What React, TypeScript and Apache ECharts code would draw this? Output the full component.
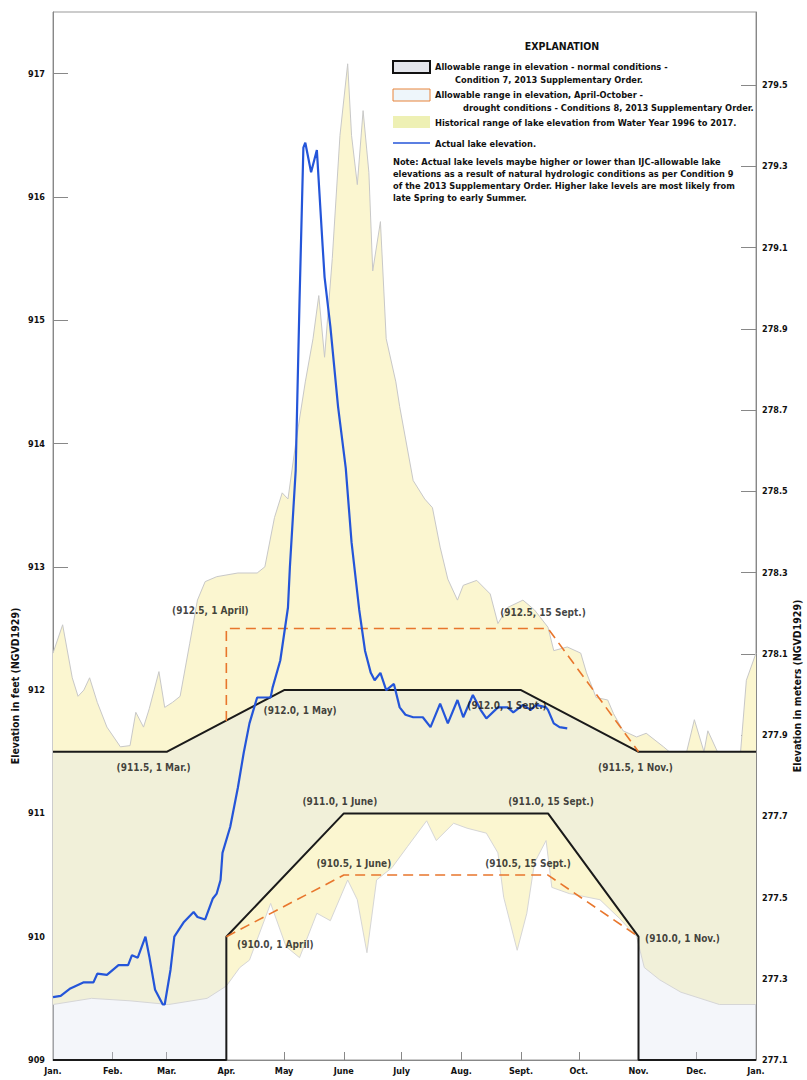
import React, { useEffect, useRef } from "react";
import * as echarts from "echarts";

// ---------- data ----------
const monthStarts = [0, 31, 59, 90, 120, 151, 181, 212, 243, 273, 304, 334, 365];
const monthLabels = ["Jan.", "Feb.", "Mar.", "Apr.", "May", "June", "July", "Aug.", "Sept.", "Oct.", "Nov.", "Dec.", "Jan."];
const feetTicks = [909, 910, 911, 912, 913, 914, 915, 916, 917];
const meterTicks = [277.1, 277.3, 277.5, 277.7, 277.9, 278.1, 278.3, 278.5, 278.7, 278.9, 279.1, 279.3, 279.5];

// normal-condition allowable range (Condition 7)
const normalUpperDays = [0, 59, 120, 243, 304, 365];
const normalUpperVals = [911.5, 911.5, 912.0, 912.0, 911.5, 911.5];
const normalLowerDays = [0, 90, 90, 151, 257, 304, 304, 365];
const normalLowerVals = [909.0, 909.0, 910.0, 911.0, 911.0, 910.0, 909.0, 909.0];

// drought-condition allowable range (Condition 8)
const droughtUpperDays = [90, 90, 257, 304];
const droughtUpperVals = [911.75, 912.5, 912.5, 911.5];
const droughtLowerDays = [90, 151, 257, 304];
const droughtLowerVals = [910.0, 910.5, 910.5, 910.0];

// historical range WY1996-2017
const histUpperDays = [0, 5, 10, 13, 16, 19, 23, 28, 35, 40, 43, 47, 50, 55, 58, 62, 66, 71, 75, 79, 85, 96, 106, 110, 115, 119, 122, 126, 131, 135, 138, 141, 145, 149, 153, 155, 158, 161, 164, 166, 170, 173, 178, 180, 187, 193, 197, 201, 205, 210, 213, 220, 227, 231, 236, 244, 250, 257, 260, 267, 274, 277, 282, 288, 291, 296, 303, 308, 317, 320, 329, 333, 338, 340, 345, 357, 360, 365];
const histUpperVals = [912.3, 912.53, 912.1, 911.95, 912.0, 912.1, 911.9, 911.7, 911.54, 911.55, 911.82, 911.7, 911.85, 912.15, 911.86, 911.9, 911.95, 912.38, 912.73, 912.88, 912.92, 912.95, 912.95, 913.0, 913.4, 913.6, 913.55, 914.0, 914.5, 914.85, 915.2, 914.7, 915.5, 916.5, 917.08, 916.5, 916.1, 916.7, 916.2, 915.4, 915.8, 914.85, 914.5, 914.3, 913.7, 913.55, 913.48, 913.16, 912.9, 912.73, 912.85, 912.89, 912.78, 912.54, 912.67, 912.73, 912.65, 912.51, 912.32, 912.35, 912.3, 912.14, 911.94, 911.92, 911.81, 911.67, 911.62, 911.65, 911.54, 911.5, 911.5, 911.76, 911.5, 911.67, 911.5, 911.5, 912.08, 912.3];
const histLowerDays = [0, 20, 40, 60, 80, 90, 97, 102, 113, 121, 128, 137, 144, 153, 158, 163, 168, 176, 184, 194, 199, 208, 215, 225, 231, 234, 241, 246, 250, 256, 259, 268, 284, 294, 303, 307, 315, 326, 336, 346, 365];
const histLowerVals = [909.45, 909.5, 909.48, 909.45, 909.5, 909.6, 909.75, 909.81, 910.27, 909.92, 909.83, 910.19, 910.13, 910.46, 910.3, 909.87, 910.46, 910.56, 910.73, 910.94, 910.78, 910.92, 910.88, 910.84, 910.68, 910.32, 909.89, 910.19, 910.6, 910.78, 910.4, 910.35, 910.3, 910.15, 910.0, 909.75, 909.65, 909.55, 909.5, 909.45, 909.45];

// actual lake elevation
const actualDays = [0, 4, 9, 16, 21, 23, 28, 34, 39, 41, 44, 48, 50, 53, 57, 58, 61, 63, 68, 73, 75, 79, 83, 85, 87, 88, 92, 96, 99, 102, 106, 113, 114, 118, 122, 123, 126, 128, 130, 131, 134, 137, 140, 141, 144, 148, 152, 155, 159, 162, 165, 167, 170, 173, 177, 180, 183, 187, 192, 196, 201, 205, 210, 213, 218, 222, 225, 231, 236, 239, 244, 248, 251, 256, 257, 260, 263, 267];
const actualVals = [909.51, 909.52, 909.58, 909.63, 909.63, 909.7, 909.69, 909.77, 909.77, 909.85, 909.83, 910.0, 909.84, 909.57, 909.45, 909.45, 909.73, 910.0, 910.12, 910.2, 910.16, 910.14, 910.31, 910.35, 910.46, 910.68, 910.89, 911.21, 911.49, 911.73, 911.94, 911.94, 912.02, 912.24, 912.67, 913.0, 913.78, 915.16, 916.4, 916.44, 916.2, 916.38, 915.6, 915.35, 914.95, 914.3, 913.8, 913.2, 912.65, 912.32, 912.14, 912.08, 912.14, 912.0, 912.05, 911.86, 911.8, 911.78, 911.78, 911.7, 911.89, 911.73, 911.92, 911.78, 911.96, 911.84, 911.77, 911.86, 911.86, 911.82, 911.88, 911.84, 911.88, 911.86, 911.84, 911.73, 911.7, 911.69];

// annotations
const annoDays = [90, 120, 59, 151, 257, 151, 257, 90, 304, 257, 243, 304];
const annoVals = [912.5, 912.0, 911.5, 911.0, 911.0, 910.5, 910.5, 910.0, 910.0, 912.5, 912.0, 911.5];
const annoTexts = ["(912.5, 1 April)", "(912.0, 1 May)", "(911.5, 1 Mar.)", "(911.0, 1 June)", "(911.0, 15 Sept.)", "(910.5, 1 June)", "(910.5, 15 Sept.)", "(910.0, 1 April)", "(910.0, 1 Nov.)", "(912.5, 15 Sept.)", "(912.0, 1 Sept.)", "(911.5, 1 Nov.)"];
const annoOffsets = [[-16, -18], [16, 20], [-13, 16], [-4, -12], [3, -12], [10, -12], [-20, -12], [49, 8], [44, 2], [-5, -16], [-14, 15], [-3, 16]];

const legendTexts = [
  "Allowable range in elevation - normal conditions -",
  "Condition 7, 2013 Supplementary Order.",
  "Allowable range in elevation, April-October -",
  "drought conditions - Conditions 8, 2013 Supplementary Order.",
  "Historical range of lake elevation from Water Year 1996 to 2017.",
  "Actual lake elevation.",
];
const noteLines = [
  "Note: Actual lake levels maybe higher or lower than IJC-allowable lake",
  "elevations as a result of natural hydrologic conditions as per Condition 9",
  "of the 2013 Supplementary Order. Higher lake levels are most likely from",
  "late Spring to early Summer.",
];

// ---------- helpers ----------
const FONT = "'Liberation Sans Narrow', 'Arial Narrow', 'DejaVu Sans Condensed', sans-serif";
const zip = (xs: number[], ys: number[]) => xs.map((x, i) => [x, ys[i]]);

function polygonSeries(pts: number[][], fill: string, z: number) {
  return {
    type: "custom",
    z,
    silent: true,
    data: [pts[0]],
    encode: { x: 0, y: 1 },
    renderItem: (_params: any, api: any) => ({
      type: "polygon",
      shape: { points: pts.map((p) => api.coord(p)) },
      style: { fill },
    }),
  };
}

function lineSeries(pts: number[][], color: string, width: number, z: number, type: any = "solid", clip = true) {
  return {
    type: "line",
    z,
    silent: true,
    clip,
    data: pts,
    showSymbol: false,
    symbol: "none",
    lineStyle: { color, width, type },
  };
}

export default function App() {
  const ref = useRef<HTMLDivElement>(null);
  useEffect(() => {
    if (!ref.current) return;
    const chart = echarts.init(ref.current, undefined, { renderer: "svg" });

    const normalUpper = zip(normalUpperDays, normalUpperVals);
    const normalLower = zip(normalLowerDays, normalLowerVals);
    const histUpper = zip(histUpperDays, histUpperVals);
    const histLower = zip(histLowerDays, histLowerVals);
    const normalPoly = [...normalUpper, ...normalLower.slice().reverse()];
    const histPoly = [...histUpper, ...histLower.slice().reverse()];

    const txt = (text: string, x: number, y: number, size: number, align = "left", extra: any = {}) => ({
      type: "text",
      x,
      y,
      silent: true,
      style: { text, font: `bold ${size}px ${FONT}`, fill: "#111", align, verticalAlign: "middle" },
      ...extra,
    });

    const LS = 9.2;
    const graphic: any[] = [
      txt("EXPLANATION", 562, 46, 10.5, "center"),
      { type: "rect", shape: { x: 393, y: 61, width: 37, height: 12 }, style: { fill: "#e4e6ec", stroke: "#111", lineWidth: 2 } },
      txt(legendTexts[0], 435, 66, LS),
      txt(legendTexts[1], 455, 79, LS),
      { type: "rect", shape: { x: 393, y: 89, width: 37, height: 12 }, style: { fill: "#eef6fb", stroke: "#e8843a", lineWidth: 1 } },
      txt(legendTexts[2], 435, 94, LS),
      txt(legendTexts[3], 463, 107, LS),
      { type: "rect", shape: { x: 393, y: 116, width: 37, height: 12 }, style: { fill: "#eef0b4" } },
      txt(legendTexts[4], 435, 122, LS),
      { type: "line", shape: { x1: 393, y1: 143, x2: 430, y2: 143 }, style: { stroke: "#2455d9", lineWidth: 1.5 } },
      txt(legendTexts[5], 435, 143, LS),
      ...noteLines.map((l, i) => txt(l, 393, 161 + i * 12, LS)),
      txt("Elevation in feet (NGVD1929)", 15, 686, 10.5, "center", { rotation: Math.PI / 2 }),
      txt("Elevation in meters (NGVD1929)", 797, 686, 10.5, "center", { rotation: Math.PI / 2 }),
    ];

    const axisLabelStyle = { fontFamily: FONT, fontWeight: "bold", fontSize: 9, color: "#111" };

    chart.setOption({
      animation: false,
      backgroundColor: "#fff",
      grid: { left: 53, right: 51, top: 12, bottom: 20, show: true, borderColor: "#999", borderWidth: 1, backgroundColor: "transparent" },
      xAxis: {
        type: "value",
        min: 0,
        max: 365,
        axisLine: { lineStyle: { color: "#888", width: 1 } },
        splitLine: { show: false },
        axisTick: { inside: true, length: 8, customValues: monthStarts, lineStyle: { color: "#888" } },
        axisLabel: {
          ...axisLabelStyle,
          customValues: monthStarts,
          margin: 6,
          formatter: (v: number) => monthLabels[monthStarts.indexOf(Math.round(v))] ?? "",
        },
      },
      yAxis: [
        {
          type: "value",
          min: 909,
          max: 917.5,
          axisLine: { show: true, lineStyle: { color: "#888" } },
          splitLine: { show: false },
          axisTick: { show: true, inside: true, length: 15, customValues: feetTicks, lineStyle: { color: "#888" } },
          axisLabel: { ...axisLabelStyle, customValues: feetTicks, margin: 8, formatter: (v: number) => String(Math.round(v)) },
        },
        {
          type: "value",
          position: "right",
          min: 277.1,
          max: 279.68,
          axisLine: { show: true, lineStyle: { color: "#888" } },
          splitLine: { show: false },
          axisTick: { show: true, inside: true, length: 15, customValues: meterTicks, lineStyle: { color: "#888" } },
          axisLabel: { ...axisLabelStyle, customValues: meterTicks, margin: 6, formatter: (v: number) => v.toFixed(1) },
        },
      ],
      graphic,
      series: [
        polygonSeries(histPoly, "#fbf6d0", 1),
        polygonSeries(normalPoly, "rgba(220,224,240,0.3)", 2),
        lineSeries(histUpper, "#c8c8c8", 1, 3),
        lineSeries(histLower, "#d6d6d6", 1, 3),
        lineSeries(normalUpper, "#1a1a1a", 2, 5),
        lineSeries(normalLower, "#1a1a1a", 2, 5, "solid", false),
        lineSeries(zip(droughtUpperDays, droughtUpperVals), "#e8762c", 1.6, 6, [10, 6]),
        lineSeries(zip(droughtLowerDays, droughtLowerVals), "#e8762c", 1.6, 6, [10, 6]),
        lineSeries(zip(actualDays, actualVals), "#2455d9", 2.2, 8),
        {
          type: "scatter",
          z: 9,
          silent: true,
          symbolSize: 0,
          data: annoDays.map((d, i) => ({
            value: [d, annoVals[i]],
            label: { offset: annoOffsets[i], formatter: annoTexts[i] },
          })),
          label: {
            show: true,
            position: "inside",
            fontFamily: FONT,
            fontWeight: "bold",
            fontSize: 10,
            color: "#111",
            align: "center",
            verticalAlign: "middle",
          },
        },
      ],
    });
    return () => chart.dispose();
  }, []);
  return <div ref={ref} style={{ position: "fixed", left: 0, top: 0, width: 807, height: 1080 }} />;
}
